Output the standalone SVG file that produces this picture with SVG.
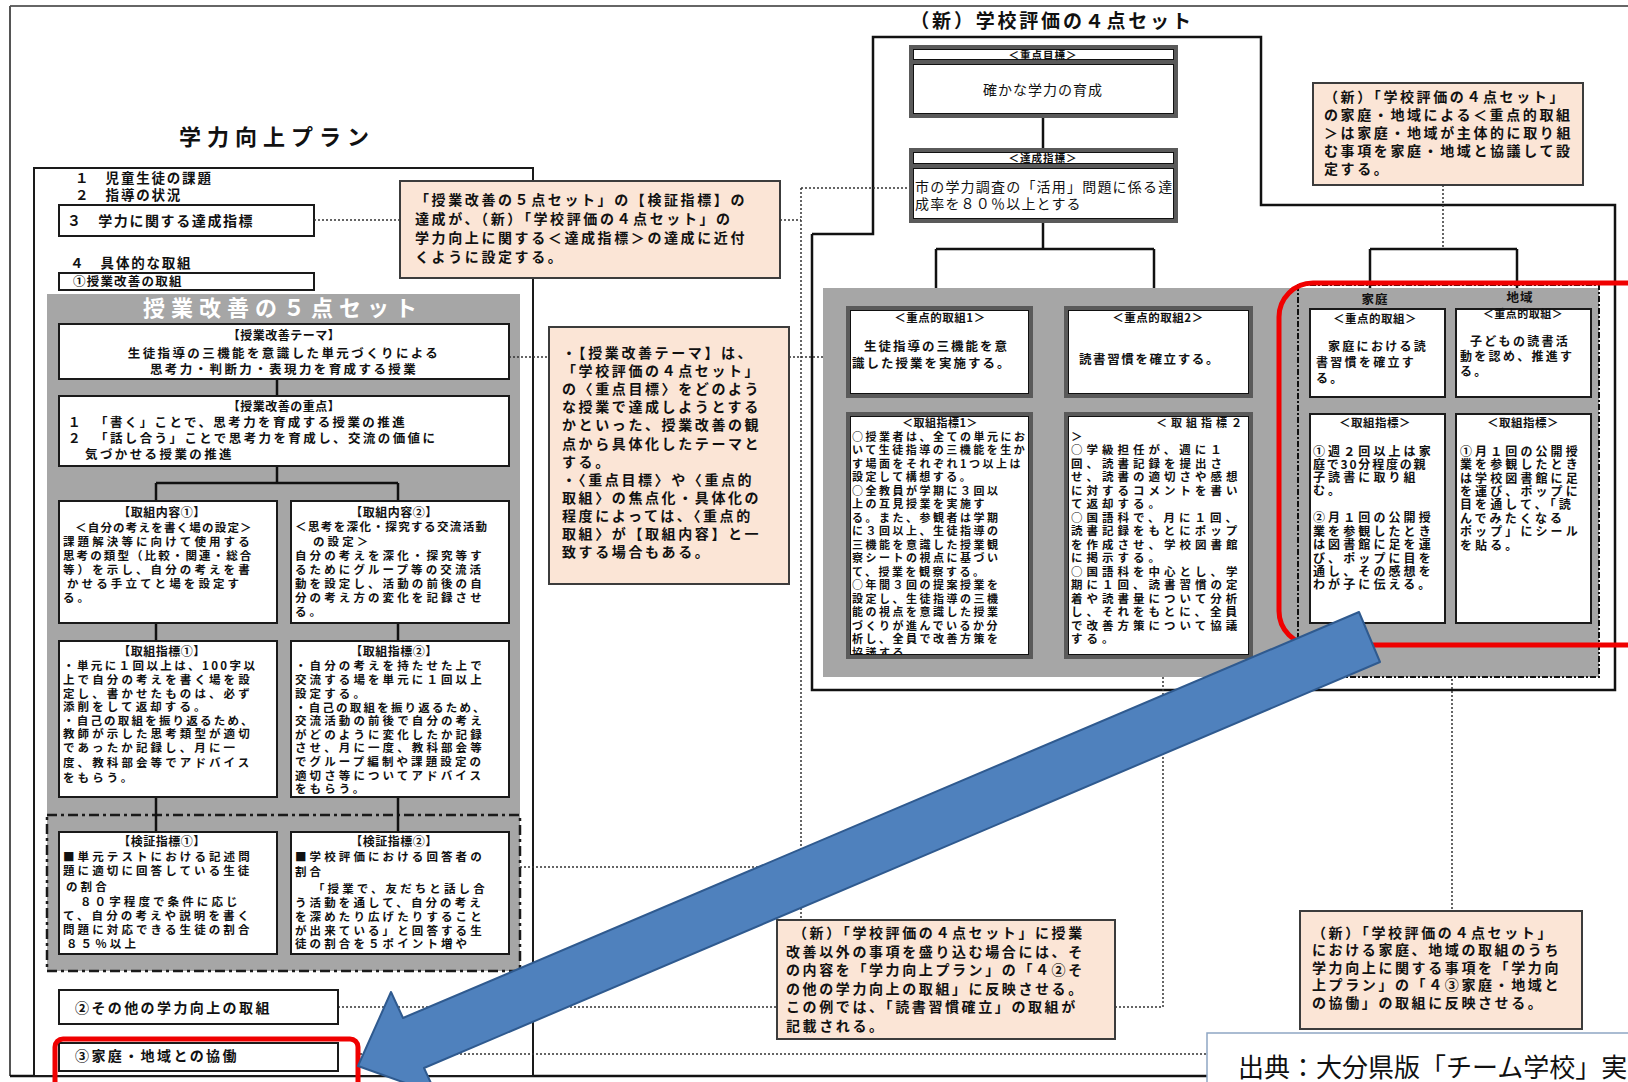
<svg xmlns="http://www.w3.org/2000/svg" width="1628" height="1082" viewBox="0 0 1628 1082">
<defs>
<style>
.f{font-family:"Noto Sans CJK JP","Noto Sans",sans-serif;fill:#111;font-weight:700}
.n{font-weight:400}
.m{text-anchor:middle}
.bx{fill:#fff;stroke:#1a1a1a;stroke-width:2}
.db{fill:#fff;stroke:#5a5a5a;stroke-width:4}
.di{fill:none;stroke:#111;stroke-width:1}
.co{fill:#fbe5d6;stroke:#3c3c3c;stroke-width:2}
.ln{fill:none;stroke:#111;stroke-width:2.5}
.dt{fill:none;stroke:#333;stroke-width:1.5;stroke-dasharray:2 2}
.rd{fill:none;stroke:#f00000;stroke-width:5}
.gr{fill:#a6a6a6}
.s1{font-size:11.5px;letter-spacing:3.1px}
.s2{font-size:12.5px;letter-spacing:2.4px}
.s3{font-size:14px;letter-spacing:2.6px}
.s4{font-size:11px;letter-spacing:2.5px}
.s5{font-size:11.5px;letter-spacing:4px}
</style>
<clipPath id="cp1"><rect x="849" y="415" width="181" height="240"/></clipPath>
<clipPath id="cp2"><rect x="1067" y="415" width="181" height="240"/></clipPath>
</defs>

<g id="frame">
<line x1="10" y1="6" x2="1628" y2="6" stroke="#666" stroke-width="2"/>
<line x1="10" y1="6" x2="10" y2="1076" stroke="#555" stroke-width="2"/>
<line class="ln" x1="10" y1="1076" x2="1207" y2="1076"/>
</g>

<g id="plan-title">
<text class="f m" x="277" y="145" font-size="22" letter-spacing="6">学力向上プラン</text>
</g>

<g id="plan">
<rect x="34" y="168" width="499" height="908" fill="#fff" stroke="#1a1a1a" stroke-width="2"/>
<text class="f" x="75" y="183" font-size="13.5" letter-spacing="1.8">１　児童生徒の課題</text>
<text class="f" x="75" y="200" font-size="13.5" letter-spacing="1.8">２　指導の状況</text>
<text class="f" x="70" y="268" font-size="13.5" letter-spacing="1.8">４　具体的な取組</text>
</g>

<g id="item3">
<rect class="bx" x="59" y="205" width="255" height="31"/>
<text class="f" x="67" y="226" font-size="14" letter-spacing="1.6">３　学力に関する達成指標</text>
</g>

<g id="item4-1">
<rect class="bx" x="59" y="273" width="255" height="17"/>
<text class="f" x="73" y="286" font-size="12.5" letter-spacing="1.2">①授業改善の取組</text>
</g>

<g id="fivepoint">
<rect class="gr" x="47" y="294" width="473" height="677"/>
<text class="f m" x="283" y="316" font-size="22" letter-spacing="6" style="fill:#fff">授業改善の５点セット</text>
<rect x="47" y="815" width="473" height="156" fill="none" stroke="#1a1a1a" stroke-width="2.5" stroke-dasharray="10 4 3 4"/>
</g>

<g id="connectors">
<line class="ln" x1="277" y1="379" x2="277" y2="396"/>
<line class="ln" x1="277" y1="466" x2="277" y2="483"/>
<line class="ln" x1="156" y1="483" x2="398" y2="483"/>
<line class="ln" x1="156" y1="483" x2="156" y2="501"/>
<line class="ln" x1="398" y1="483" x2="398" y2="501"/>
<line class="ln" x1="156" y1="623" x2="156" y2="641"/>
<line class="ln" x1="398" y1="623" x2="398" y2="641"/>
<line class="ln" x1="156" y1="797" x2="156" y2="832"/>
<line class="ln" x1="398" y1="797" x2="398" y2="832"/>
<polyline class="ln" points="812,234 873,234 873,37 1261,37 1261,205 1615,205 1615,690 812,690 812,234"/>
<line class="ln" x1="1043" y1="116" x2="1043" y2="150"/>
<line class="ln" x1="1043" y1="221" x2="1043" y2="249"/>
<line class="ln" x1="936" y1="249" x2="1154" y2="249"/>
<line class="ln" x1="936" y1="249" x2="936" y2="308"/>
<line class="ln" x1="1154" y1="249" x2="1154" y2="308"/>
<line class="ln" x1="936" y1="396" x2="936" y2="414"/>
<line class="ln" x1="1154" y1="396" x2="1154" y2="414"/>
<line class="ln" x1="1370" y1="249" x2="1517" y2="249"/>
<line class="ln" x1="1370" y1="249" x2="1370" y2="292"/>
<line class="ln" x1="1517" y1="249" x2="1517" y2="292"/>
<line class="dt" x1="314" y1="220" x2="400" y2="220"/>
<line class="dt" x1="780" y1="220" x2="801" y2="220"/>
<line class="dt" x1="801" y1="188" x2="911" y2="188"/>
<line class="dt" x1="801" y1="188" x2="801" y2="921"/>
<line class="dt" x1="509" y1="357" x2="549" y2="357"/>
<line class="dt" x1="789" y1="357" x2="848" y2="357"/>
<line class="dt" x1="520" y1="867" x2="801" y2="867"/>
<line class="dt" x1="338" y1="1007" x2="777" y2="1007"/>
<line class="dt" x1="1115" y1="1007" x2="1163" y2="1007"/>
<line class="dt" x1="1163" y1="657" x2="1163" y2="1007"/>
<line class="dt" x1="360" y1="1054" x2="1207" y2="1054"/>
<line class="dt" x1="1443" y1="185" x2="1443" y2="249"/>
<line class="dt" x1="1452" y1="623" x2="1452" y2="911"/>
</g>

<g id="theme">
<rect class="bx" x="59" y="324" width="450" height="55"/>
<text class="f m" x="284" y="340" font-size="12" letter-spacing="0.5">【授業改善テーマ】</text>
<text class="f m s2" x="284" y="358" letter-spacing="2.2">生徒指導の三機能を意識した単元づくりによる</text>
<text class="f m s2" x="284" y="374">思考力・判断力・表現力を育成する授業</text>
</g>

<g id="focus">
<rect class="bx" x="59" y="396" width="450" height="70"/>
<text class="f m" x="284" y="411" font-size="12" letter-spacing="0.5">【授業改善の重点】</text>
<text class="f s2"><tspan x="68" y="427">１</tspan><tspan x="95" y="427">「書く」ことで、思考力を育成する授業の推進</tspan><tspan x="68" y="443">２</tspan><tspan x="95" y="443">「話し合う」ことで思考力を育成し、交流の価値に</tspan><tspan x="85" y="459">気づかせる授業の推進</tspan></text>
</g>

<g id="content1">
<rect class="bx" x="59" y="501" width="218" height="122"/>
<text class="f m" x="162" y="517" font-size="12" letter-spacing="0.5">【取組内容①】</text>
<text class="f s1"><tspan x="75" y="532" letter-spacing="1.2">＜自分の考えを書く場の設定＞</tspan><tspan x="63" y="546">課題解決等に向けて使用する</tspan><tspan x="63" y="560" letter-spacing="2.1">思考の類型（比較・関連・総合</tspan><tspan x="63" y="574">等）を示し、自分の考えを書</tspan><tspan x="67" y="588">かせる手立てと場を設定す</tspan><tspan x="63" y="602">る。</tspan></text>
</g>

<g id="content2">
<rect class="bx" x="291" y="501" width="218" height="122"/>
<text class="f m" x="394" y="517" font-size="12" letter-spacing="0.5">【取組内容②】</text>
<text class="f s1"><tspan x="295" y="531" letter-spacing="1.4">＜思考を深化・探究する交流活動</tspan><tspan x="313" y="546">の設定＞</tspan><tspan x="295" y="560">自分の考えを深化・探究等す</tspan><tspan x="295" y="574">るためにグループ等の交流活</tspan><tspan x="295" y="588">動を設定し、活動の前後の自</tspan><tspan x="295" y="602">分の考え方の変化を記録させ</tspan><tspan x="295" y="616">る。</tspan></text>
</g>

<g id="indicator1">
<rect class="bx" x="59" y="641" width="218" height="156"/>
<text class="f m" x="162" y="656" font-size="12" letter-spacing="0.5">【取組指標①】</text>
<text class="f s1"><tspan x="63" y="670" letter-spacing="2.4">・単元に１回以上は、100字以</tspan><tspan x="63" y="684">上で自分の考えを書く場を設</tspan><tspan x="63" y="698">定し、書かせたものは、必ず</tspan><tspan x="63" y="711">添削をして返却する。</tspan><tspan x="63" y="725" letter-spacing="2.2">・自己の取組を振り返るため、</tspan><tspan x="63" y="738">教師が示した思考類型が適切</tspan><tspan x="63" y="752">であったか記録し、月に一</tspan><tspan x="63" y="767">度、教科部会等でアドバイス</tspan><tspan x="63" y="782">をもらう。</tspan></text>
</g>

<g id="indicator2">
<rect class="bx" x="291" y="641" width="218" height="156"/>
<text class="f m" x="394" y="656" font-size="12" letter-spacing="0.5">【取組指標②】</text>
<text class="f s1"><tspan x="295" y="670">・自分の考えを持たせた上で</tspan><tspan x="295" y="684">交流する場を単元に１回以上</tspan><tspan x="295" y="698">設定する。</tspan><tspan x="295" y="711.5" letter-spacing="2.2">・自己の取組を振り返るため、</tspan><tspan x="295" y="725">交流活動の前後で自分の考え</tspan><tspan x="295" y="738.5">がどのように変化したか記録</tspan><tspan x="295" y="752">させ、月に一度、教科部会等</tspan><tspan x="295" y="766">でグループ編制や課題設定の</tspan><tspan x="295" y="780">適切さ等についてアドバイス</tspan><tspan x="295" y="793">をもらう。</tspan></text>
</g>

<g id="verify1">
<rect class="bx" x="59" y="832" width="218" height="122"/>
<text class="f m" x="162" y="846" font-size="12" letter-spacing="0.5">【検証指標①】</text>
<text class="f s1"><tspan x="63" y="861">■単元テストにおける記述問</tspan><tspan x="63" y="875">題に適切に回答している生徒</tspan><tspan x="66" y="891">の割合</tspan><tspan x="80" y="906">８０字程度で条件に応じ</tspan><tspan x="63" y="920">て、自分の考えや説明を書く</tspan><tspan x="63" y="934">問題に対応できる生徒の割合</tspan><tspan x="66" y="948">８５％以上</tspan></text>
</g>

<g id="verify2">
<rect class="bx" x="291" y="832" width="218" height="122"/>
<text class="f m" x="394" y="846" font-size="12" letter-spacing="0.5">【検証指標②】</text>
<text class="f s1"><tspan x="295" y="861">■学校評価における回答者の</tspan><tspan x="295" y="876">割合</tspan><tspan x="313" y="893">「授業で、友だちと話し合</tspan><tspan x="295" y="907">う活動を通して、自分の考え</tspan><tspan x="295" y="921">を深めたり広げたりすること</tspan><tspan x="295" y="935">が出来ている」と回答する生</tspan><tspan x="295" y="948">徒の割合を５ポイント増や</tspan></text>
</g>

<g id="item4-2">
<rect class="bx" x="59" y="990" width="279" height="34"/>
<text class="f" x="75" y="1013" font-size="14" letter-spacing="2.4">②その他の学力向上の取組</text>
</g>

<g id="item4-3">
<rect class="bx" x="59" y="1043" width="279" height="28"/>
<text class="f" x="75" y="1061" font-size="14" letter-spacing="2.4">③家庭・地域との協働</text>
<rect class="rd" x="55" y="1039" width="303" height="52" rx="8"/>
</g>

<g id="callout1">
<rect class="co" x="400" y="181" width="380" height="97"/>
<text class="f s3" letter-spacing="2.6"><tspan x="415" y="205">「授業改善の５点セット」の【検証指標】の</tspan><tspan x="415" y="224">達成が、（新）「学校評価の４点セット」の</tspan><tspan x="415" y="243">学力向上に関する＜達成指標＞の達成に近付</tspan><tspan x="415" y="262">くように設定する。</tspan></text>
</g>

<g id="callout2">
<rect class="co" x="549" y="327" width="240" height="257"/>
<text class="f s3" letter-spacing="2.5"><tspan x="562" y="358">・【授業改善テーマ】は、</tspan><tspan x="562" y="376">「学校評価の４点セット」</tspan><tspan x="562" y="394">の〈重点目標〉をどのよう</tspan><tspan x="562" y="412">な授業で達成しようとする</tspan><tspan x="562" y="430">かといった、授業改善の観</tspan><tspan x="562" y="449">点から具体化したテーマと</tspan><tspan x="562" y="467">する。</tspan><tspan x="562" y="485">・〈重点目標〉や〈重点的</tspan><tspan x="562" y="503">取組〉の焦点化・具体化の</tspan><tspan x="562" y="521">程度によっては、〈重点的</tspan><tspan x="562" y="539">取組〉が【取組内容】と一</tspan><tspan x="562" y="557">致する場合もある。</tspan></text>
</g>

<g id="school-title">
<text class="f m" x="1052" y="28" font-size="19" letter-spacing="2.8">（新）学校評価の４点セット</text>
</g>

<g id="goal">
<rect class="db" x="911" y="47" width="265" height="15"/>
<rect class="di" x="913.5" y="49.5" width="260" height="10"/>
<rect class="db" x="911" y="62" width="265" height="54"/>
<rect class="di" x="913.5" y="64.5" width="260" height="49"/>
<text class="f m" x="1043" y="58.5" font-size="10.5" letter-spacing="1">＜重点目標＞</text>
<text class="f m n" x="1043" y="95" font-size="14" letter-spacing="1">確かな学力の育成</text>
</g>

<g id="target">
<rect class="db" x="911" y="150" width="265" height="16"/>
<rect class="di" x="913.5" y="152.5" width="260" height="11"/>
<rect class="db" x="911" y="166" width="265" height="55"/>
<rect class="di" x="913.5" y="168.5" width="260" height="50"/>
<text class="f m" x="1043" y="161.5" font-size="10.5" letter-spacing="1">＜達成指標＞</text>
<text class="f n" font-size="14" letter-spacing="1.2"><tspan x="915" y="192">市の学力調査の「活用」問題に係る達</tspan><tspan x="915" y="209">成率を８０％以上とする</tspan></text>
</g>

<g id="callout3">
<rect class="co" x="1313" y="83" width="270" height="102"/>
<text class="f s3" letter-spacing="2.6"><tspan x="1324" y="102">（新）「学校評価の４点セット」</tspan><tspan x="1324" y="120">の家庭・地域による＜重点的取組</tspan><tspan x="1324" y="138">＞は家庭・地域が主体的に取り組</tspan><tspan x="1324" y="156">む事項を家庭・地域と協議して設</tspan><tspan x="1324" y="174">定する。</tspan></text>
</g>

<g id="school-area">
<rect class="gr" x="823" y="288" width="776" height="389"/>
<rect x="1298" y="285" width="301" height="392" fill="none" stroke="#111" stroke-width="2" stroke-dasharray="6 2 2 2"/>
<text class="f m" x="1375" y="304" font-size="12.5" letter-spacing="1">家庭</text>
<text class="f m" x="1520" y="302" font-size="12.5" letter-spacing="1">地域</text>
</g>

<g id="focus1">
<rect class="db" x="848" y="308" width="183" height="88"/>
<rect class="di" x="850.5" y="310.5" width="178" height="83"/>
<text class="f m" x="940" y="322" font-size="11.5" letter-spacing="0.5">＜重点的取組1＞</text>
<text class="f" font-size="12.5" letter-spacing="2"><tspan x="864" y="351">生徒指導の三機能を意</tspan><tspan x="852" y="368">識した授業を実施する。</tspan></text>
</g>

<g id="focus2">
<rect class="db" x="1066" y="308" width="185" height="88"/>
<rect class="di" x="1068.5" y="310.5" width="180" height="83"/>
<text class="f m" x="1158" y="322" font-size="11.5" letter-spacing="0.5">＜重点的取組2＞</text>
<text class="f" x="1079" y="364" font-size="12.5" letter-spacing="1.6">読書習慣を確立する。</text>
</g>

<g id="measure1">
<rect class="db" x="848" y="414" width="183" height="243"/>
<rect class="di" x="850.5" y="416.5" width="178" height="238"/>
<text class="f m" x="940" y="427" font-size="11" letter-spacing="0.5">＜取組指標1＞</text>
<text class="f s4" clip-path="url(#cp1)"><tspan x="852" y="441">○授業者は、全ての単元にお</tspan><tspan x="852" y="454">いて生徒指導の三機能を生か</tspan><tspan x="852" y="468">す場面をそれぞれ1つ以上は</tspan><tspan x="852" y="481">設定して構想する。</tspan><tspan x="852" y="495">○全教員が学期に３回以</tspan><tspan x="852" y="508">上の互見授業を実施す</tspan><tspan x="852" y="522">る。また、参観者は学期</tspan><tspan x="852" y="535">に３回以上、生徒指導の</tspan><tspan x="852" y="549">三機能を意識した授業観</tspan><tspan x="852" y="562">察シートの視点に基づい</tspan><tspan x="852" y="576">て、授業を観察する。</tspan><tspan x="852" y="589">○年間３回の提案授業を</tspan><tspan x="852" y="603">設定し、生徒指導の三機</tspan><tspan x="852" y="616">能の視点を意識した授業</tspan><tspan x="852" y="630">づくりが進んでいるか分</tspan><tspan x="852" y="643">析し、全員で改善方策を</tspan><tspan x="852" y="657">協議する。</tspan></text>
</g>

<g id="measure2">
<rect class="db" x="1066" y="414" width="185" height="243"/>
<rect class="di" x="1068.5" y="416.5" width="180" height="238"/>
<text class="f" x="1246" y="427" font-size="11" letter-spacing="4" text-anchor="end">＜取組指標２</text>
<text class="f s5" clip-path="url(#cp2)"><tspan x="1071" y="441">＞</tspan><tspan x="1071" y="454">○学級担任が、週に１</tspan><tspan x="1071" y="468">回、読書記録を提出さ</tspan><tspan x="1071" y="481">せ、読書の適切さや感想</tspan><tspan x="1071" y="495">に対するコメントを書い</tspan><tspan x="1071" y="508">て返却する。</tspan><tspan x="1071" y="522">○国語科で、月に１回、</tspan><tspan x="1071" y="535">読書記録をもとにポップ</tspan><tspan x="1071" y="549">を作成させ、学校図書館</tspan><tspan x="1071" y="562">に掲示する。</tspan><tspan x="1071" y="576">○国語科を中心とし、学</tspan><tspan x="1071" y="589">期に１回、読書習慣の定</tspan><tspan x="1071" y="603">着や読書量について分析</tspan><tspan x="1071" y="616">し、それをもとに、全員</tspan><tspan x="1071" y="630">で改善方策について協議</tspan><tspan x="1071" y="643">する。</tspan></text>
</g>

<g id="home-focus">
<rect class="bx" x="1310" y="309" width="135" height="88"/>
<text class="f m" x="1375" y="323" font-size="11.5" letter-spacing="0.5">＜重点的取組＞</text>
<text class="f" font-size="12" letter-spacing="2.3"><tspan x="1328" y="351">家庭における読</tspan><tspan x="1316" y="367">書習慣を確立す</tspan><tspan x="1316" y="383">る。</tspan></text>
</g>

<g id="area-focus">
<rect class="bx" x="1456" y="309" width="135" height="88"/>
<text class="f m" x="1523" y="318" font-size="11" letter-spacing="0.5">＜重点的取組＞</text>
<text class="f" font-size="12" letter-spacing="2.3"><tspan x="1470" y="346">子どもの読書活</tspan><tspan x="1460" y="361">動を認め、推進す</tspan><tspan x="1460" y="376">る。</tspan></text>
</g>

<g id="home-measure">
<rect class="bx" x="1310" y="414" width="135" height="209"/>
<text class="f m" x="1375" y="427" font-size="11.5" letter-spacing="0.5">＜取組指標＞</text>
<text class="f" font-size="12" letter-spacing="3.1"><tspan x="1313" y="456">①週２回以上は家</tspan><tspan x="1313" y="469" letter-spacing="1.8">庭で30分程度の親</tspan><tspan x="1313" y="482">子読書に取り組</tspan><tspan x="1313" y="495">む。</tspan><tspan x="1313" y="522">②月１回の公開授</tspan><tspan x="1313" y="536">業を参観したとき</tspan><tspan x="1313" y="549">は図書館に足を運</tspan><tspan x="1313" y="563">び、ポップに目を</tspan><tspan x="1313" y="576">通し、その感想を</tspan><tspan x="1313" y="589">わが子に伝える。</tspan></text>
</g>

<g id="area-measure">
<rect class="bx" x="1456" y="414" width="135" height="209"/>
<text class="f m" x="1523" y="427" font-size="11.5" letter-spacing="0.5">＜取組指標＞</text>
<text class="f" font-size="12" letter-spacing="3.1"><tspan x="1460" y="456">①月１回の公開授</tspan><tspan x="1460" y="469">業を参観したとき</tspan><tspan x="1460" y="483">は学校図書館に足</tspan><tspan x="1460" y="496">を運び、ポップに</tspan><tspan x="1460" y="509">目を通して、「読</tspan><tspan x="1460" y="523">んでみたくなる</tspan><tspan x="1460" y="536">ポップ」にシール</tspan><tspan x="1460" y="550">を貼る。</tspan></text>
</g>

<g id="highlight-home-area">
<rect class="rd" x="1279" y="283" width="400" height="362" rx="34"/>
</g>

<g id="callout4">
<rect class="co" x="777" y="920" width="338" height="119"/>
<text class="f s3" letter-spacing="3"><tspan x="793" y="938">（新）「学校評価の４点セット」に授業</tspan><tspan x="786" y="957">改善以外の事項を盛り込む場合には、そ</tspan><tspan x="786" y="975">の内容を「学力向上プラン」の「４②そ</tspan><tspan x="786" y="994">の他の学力向上の取組」に反映させる。</tspan><tspan x="786" y="1012">この例では、「読書習慣確立」の取組が</tspan><tspan x="786" y="1031">記載される。</tspan></text>
</g>

<g id="callout5">
<rect class="co" x="1300" y="911" width="282" height="118"/>
<text class="f s3" letter-spacing="3.4"><tspan x="1312" y="938">（新）「学校評価の４点セット」</tspan><tspan x="1312" y="955">における家庭、地域の取組のうち</tspan><tspan x="1312" y="973">学力向上に関する事項を「学力向</tspan><tspan x="1312" y="990">上プラン」の「４③家庭・地域と</tspan><tspan x="1312" y="1008">の協働」の取組に反映させる。</tspan></text>
</g>

<g id="arrow">
<polygon points="1359,612 403,1018 391,992 358,1066 436,1094 424,1068 1380,662" fill="#4f81bd" stroke="#2f5a8f" stroke-width="2" stroke-linejoin="round"/>
</g>

<g id="source">
<rect x="1207" y="1033" width="430" height="60" fill="#fff" stroke="#8ea6c4" stroke-width="1.5"/>
<text class="f n" x="1238" y="1077" font-size="26">出典：大分県版「チーム学校」実</text>
</g>
</svg>
